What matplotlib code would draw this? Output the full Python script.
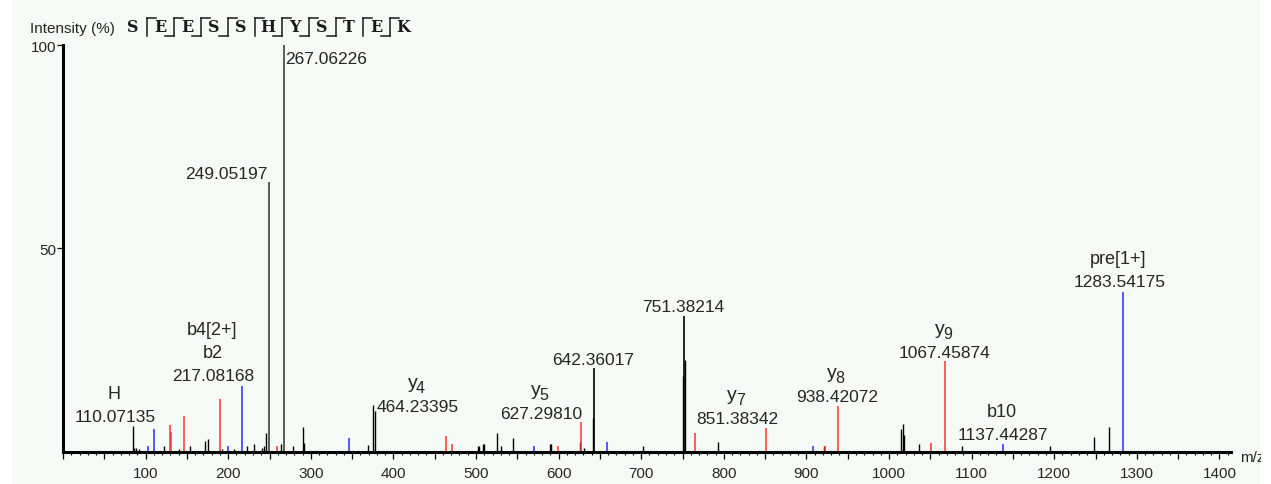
import matplotlib
matplotlib.use("Agg")
import matplotlib.pyplot as plt
from matplotlib.patches import Rectangle
from matplotlib.ticker import MultipleLocator, FuncFormatter

plt.rcParams['font.family'] = ['Liberation Sans', 'DejaVu Sans']

# ---- peptide ----
sequence = "SEESSHYSTEK"
b_marks = [False, True, True, True, False, True, True, True, False, True]
y_marks = [True] * 10

# ---- peaks (m/z, intensity %) ----
black_mz = [85.2, 86.5, 88.0, 92.0, 122.8, 141.0, 153.9, 172.0, 175.3, 193.0,
            207.0, 223.0, 231.4, 241.4, 243.8, 245.9, 264.0, 279.0, 290.3, 292.3,
            369.4, 375.8, 377.4, 502.2, 504.0, 508.0, 510.0, 525.5, 530.4, 545.0,
            589.7, 591.3, 626.0, 631.0, 641.4, 702.7, 750.4, 752.4, 793.0, 921.0,
            1014.6, 1016.7, 1018.7, 1036.0, 1088.5, 1195.0, 1248.3, 1266.1]
black_int = [6.4, 1.0, 0.8, 0.7, 1.3, 0.7, 1.3, 2.6, 3.2, 0.7,
             0.7, 1.3, 1.8, 0.8, 1.5, 4.5, 1.8, 1.3, 6.0, 2.1,
             1.6, 11.5, 10.1, 1.3, 1.3, 1.8, 2.0, 4.5, 1.3, 3.4,
             1.8, 1.8, 2.3, 0.8, 8.4, 1.3, 18.5, 22.5, 2.3, 1.3,
             5.7, 6.8, 4.1, 2.0, 1.3, 1.3, 3.5, 6.1]
# labelled black peaks
main_mz = [249.05197, 267.06226, 642.36017, 751.38214]
main_int = [66.2, 100.0, 20.5, 33.4]

red_mz = [129.7, 131.3, 146.6, 190.2, 259.2, 464.23395, 471.0, 599.0, 627.29810,
          765.3, 851.38342, 922.3, 938.42072, 1051.0, 1067.45874]
red_int = [6.6, 4.9, 8.9, 12.9, 1.5, 3.8, 1.9, 1.3, 7.2,
           4.5, 5.8, 1.3, 11.2, 2.2, 22.3]

blue_mz = [103.0, 110.07135, 200.3, 217.08168, 346.4, 570.0, 658.3, 907.7,
           1137.44287, 1283.54175]
blue_int = [1.5, 5.5, 1.3, 16.2, 3.3, 1.3, 2.3, 1.3, 2.0, 39.3]

# ---- annotations ----
label_mz = [110.07135, 217.08168, 249.05197, 267.06226, 464.23395, 627.29810,
            642.36017, 751.38214, 851.38342, 938.42072, 1067.45874, 1137.44287,
            1283.54175]
label_names = [['H'], ['b2', 'b4[2+]'], [], [], ['y4'], ['y5'], [], [], ['y7'],
               ['y8'], ['y9'], ['b10'], ['pre[1+]']]
label_dx = [-39, -29, -1, 2, -29, -40, 0, 0, -29, -1, 0, 0, -4]
label_dy = [13, 10, 9, -14, 30, 9, 9, 9, 10, 10, 9, 9, 10]
label_ha = ['center', 'center', 'right', 'left'] + ['center'] * 9

W, H = 1271, 485
fig = plt.figure(figsize=(W / 100, H / 100), dpi=100)
fig.patch.set_facecolor('white')
fig.patches.append(Rectangle((12 / W, 0), (1260 - 12) / W, 1, transform=fig.transFigure,
                             facecolor='#f5faf7', edgecolor='none', zorder=-10))

# header overlay in pixel units
hd = fig.add_axes([0, 0, 1, 1])
hd.set_xlim(0, W)
hd.set_ylim(H, 0)
hd.axis('off')
hd.patch.set_alpha(0)

txt = '#262626'
hd.text(30, 29, 'Intensity (%)', fontsize=11, color=txt, ha='left', va='center')
for i, aa in enumerate(sequence):
    x = 133 + 27 * i
    hd.text(x, 27.5, aa, fontsize=11.5, family='DejaVu Serif', weight='bold',
            color='#1a1a1a', ha='center', va='center')
    if i < len(sequence) - 1:
        sx = x + 13.5
        hd.plot([sx, sx], [19, 37], color='#1a1a1a', lw=1.1)
        if y_marks[i]:
            hd.plot([sx, sx + 9], [19, 19], color='#1a1a1a', lw=1.1)
        if b_marks[i]:
            hd.plot([sx - 9, sx], [37, 37], color='#1a1a1a', lw=1.1)
mz_txt = hd.text(1240, 458, 'm/z', fontsize=11, color=txt, ha='left', va='center',
                 clip_on=True)
mz_txt.set_clip_path(Rectangle((0, 0), 1261, H, transform=hd.transData))

# ---- spectrum ----
ax = fig.add_axes([63 / W, (H - 452.7) / H, (1231 - 63) / W, (452.7 - 46) / H])
ax.patch.set_alpha(0)
ax.set_xlim(0, 1414)
ax.set_ylim(0, 100)

ax.vlines(black_mz, 0, black_int, color='black', lw=1.0, clip_on=False)
ax.vlines(main_mz[:2], 0, main_int[:2], color='#4d4d4d', lw=1.3, clip_on=False)
ax.vlines(main_mz[2:], 0, main_int[2:], color='black', lw=1.2, clip_on=False)
ax.vlines(red_mz, 0, red_int, color='#ff3333', lw=1.1, clip_on=False)
ax.vlines(blue_mz, 0, blue_int, color='#2b2bff', lw=1.1, clip_on=False)

all_mz = black_mz + main_mz + red_mz + blue_mz
all_int = black_int + main_int + red_int + blue_int
for mz, names, dx, dy, ha in zip(label_mz, label_names, label_dx, label_dy, label_ha):
    inten = all_int[all_mz.index(mz)]
    ax.annotate(f"{mz:.5f}", xy=(mz, inten), xytext=(dx, dy), textcoords='offset pixels',
                ha=ha, va='center', fontsize=12.5, color=txt, annotation_clip=False)
    for k, nm in enumerate(names):
        ny = dy + 23 * (k + 1)
        if nm.startswith('y'):
            # y ion: letter plus a lowered, nearly full-size index
            ax.annotate('y', xy=(mz, inten), xytext=(dx - 5, ny + 1),
                        textcoords='offset pixels', ha='center', va='center',
                        fontsize=14, color=txt, annotation_clip=False)
            ax.annotate(nm[1:], xy=(mz, inten), xytext=(dx + 3, ny - 4),
                        textcoords='offset pixels', ha='center', va='center',
                        fontsize=11.5, color=txt, annotation_clip=False)
        else:
            ax.annotate(nm, xy=(mz, inten), xytext=(dx - 1, ny),
                        textcoords='offset pixels', ha='center', va='center',
                        fontsize=13, color=txt, annotation_clip=False)

for s in ['top', 'right']:
    ax.spines[s].set_visible(False)
for s in ['left', 'bottom']:
    ax.spines[s].set_linewidth(2.2)
    ax.spines[s].set_color('black')

ax.xaxis.set_major_locator(MultipleLocator(50))
ax.xaxis.set_minor_locator(MultipleLocator(10))
ax.xaxis.set_major_formatter(FuncFormatter(
    lambda v, p: f"{int(v)}" if v > 0 and int(v) % 100 == 0 else ""))
ax.tick_params(axis='x', which='major', length=5, width=0.9, pad=5,
               labelsize=11, labelcolor=txt)
ax.tick_params(axis='x', which='minor', length=2.2, width=0.8)
ax.set_yticks([50, 100])
ax.set_yticklabels(['50', '100'])
ax.tick_params(axis='y', length=4, width=0.9, pad=1, labelsize=11, labelcolor=txt)

fig.savefig('out.png', dpi=100, facecolor=fig.get_facecolor())
